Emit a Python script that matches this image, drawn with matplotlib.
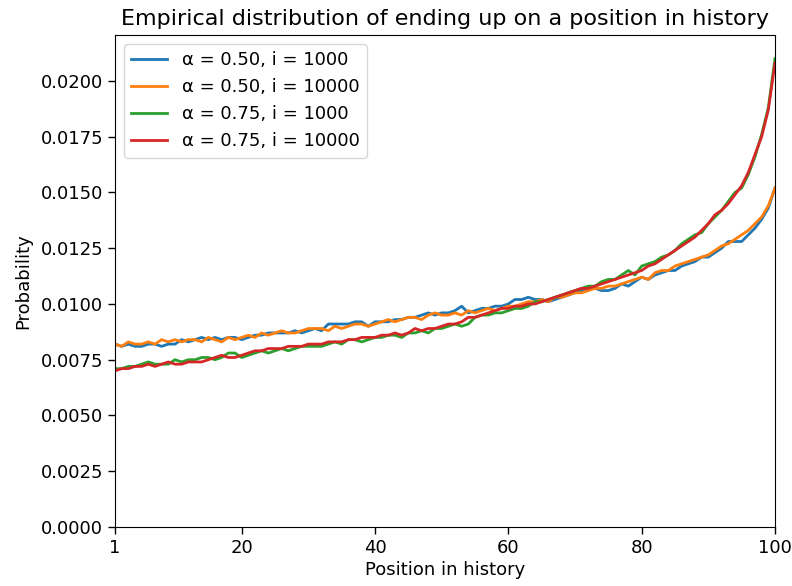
import numpy as np
import matplotlib
matplotlib.use("Agg")
import matplotlib.pyplot as plt

positions = list(range(1, 101))

# alpha = 0.50, i = 1000
p50_1k = [0.0082, 0.0081, 0.0082, 0.0081, 0.0081, 0.0082, 0.0082, 0.0081, 0.0082, 0.0082,
          0.0084, 0.0083, 0.0084, 0.0085, 0.0084, 0.0085, 0.0084, 0.0085, 0.0085, 0.0084,
          0.0085, 0.0086, 0.0086, 0.0087, 0.0087, 0.0087, 0.0087, 0.0088, 0.0087, 0.0088,
          0.0089, 0.0088, 0.0091, 0.0091, 0.0091, 0.0091, 0.0092, 0.0092, 0.0090, 0.0092,
          0.0092, 0.0092, 0.0093, 0.0093, 0.0094, 0.0094, 0.0095, 0.0096, 0.0095, 0.0096,
          0.0096, 0.0097, 0.0099, 0.0096, 0.0097, 0.0098, 0.0098, 0.0099, 0.0099, 0.0100,
          0.0102, 0.0102, 0.0103, 0.0102, 0.0102, 0.0101, 0.0102, 0.0103, 0.0104, 0.0105,
          0.0106, 0.0107, 0.0107, 0.0106, 0.0106, 0.0107, 0.0109, 0.0108, 0.0110, 0.0112,
          0.0111, 0.0113, 0.0114, 0.0115, 0.0115, 0.0117, 0.0118, 0.0119, 0.0121, 0.0121,
          0.0123, 0.0125, 0.0128, 0.0128, 0.0128, 0.0131, 0.0134, 0.0138, 0.0143, 0.0152]

# alpha = 0.50, i = 10000
p50_10k = [0.0082, 0.0081, 0.0083, 0.0082, 0.0082, 0.0083, 0.0082, 0.0084, 0.0083, 0.0084,
           0.0083, 0.0084, 0.0084, 0.0083, 0.0085, 0.0084, 0.0083, 0.0085, 0.0084, 0.0085,
           0.0086, 0.0085, 0.0087, 0.0086, 0.0087, 0.0088, 0.0087, 0.0087, 0.0088, 0.0089,
           0.0089, 0.0089, 0.0088, 0.0090, 0.0089, 0.0090, 0.0091, 0.0091, 0.0090, 0.0091,
           0.0092, 0.0093, 0.0092, 0.0093, 0.0094, 0.0094, 0.0093, 0.0095, 0.0096, 0.0095,
           0.0095, 0.0096, 0.0095, 0.0097, 0.0096, 0.0097, 0.0098, 0.0097, 0.0098, 0.0099,
           0.0099, 0.0100, 0.0101, 0.0101, 0.0102, 0.0101, 0.0103, 0.0103, 0.0104, 0.0105,
           0.0105, 0.0106, 0.0107, 0.0107, 0.0108, 0.0108, 0.0109, 0.0110, 0.0111, 0.0112,
           0.0111, 0.0114, 0.0115, 0.0115, 0.0117, 0.0118, 0.0119, 0.0120, 0.0121, 0.0122,
           0.0124, 0.0126, 0.0127, 0.0129, 0.0131, 0.0133, 0.0136, 0.0139, 0.0144, 0.0152]

# alpha = 0.75, i = 1000
p75_1k = [0.0071, 0.0071, 0.0072, 0.0072, 0.0073, 0.0074, 0.0073, 0.0073, 0.0073, 0.0075,
          0.0074, 0.0075, 0.0075, 0.0076, 0.0076, 0.0075, 0.0076, 0.0078, 0.0078, 0.0076,
          0.0077, 0.0078, 0.0079, 0.0078, 0.0079, 0.0080, 0.0079, 0.0080, 0.0081, 0.0081,
          0.0081, 0.0081, 0.0082, 0.0083, 0.0082, 0.0084, 0.0084, 0.0083, 0.0084, 0.0085,
          0.0085, 0.0086, 0.0086, 0.0085, 0.0087, 0.0087, 0.0088, 0.0087, 0.0089, 0.0089,
          0.0090, 0.0091, 0.0090, 0.0091, 0.0094, 0.0095, 0.0095, 0.0096, 0.0096, 0.0097,
          0.0098, 0.0098, 0.0099, 0.0101, 0.0101, 0.0102, 0.0103, 0.0104, 0.0105, 0.0106,
          0.0107, 0.0108, 0.0108, 0.0110, 0.0111, 0.0111, 0.0113, 0.0115, 0.0113, 0.0117,
          0.0118, 0.0119, 0.0121, 0.0122, 0.0124, 0.0127, 0.0129, 0.0131, 0.0132, 0.0136,
          0.0139, 0.0142, 0.0146, 0.0150, 0.0152, 0.0158, 0.0166, 0.0176, 0.0188, 0.0210]

# alpha = 0.75, i = 10000
p75_10k = [0.0070, 0.0071, 0.0071, 0.0072, 0.0072, 0.0073, 0.0072, 0.0073, 0.0074, 0.0073,
           0.0073, 0.0074, 0.0074, 0.0074, 0.0075, 0.0076, 0.0077, 0.0076, 0.0076, 0.0077,
           0.0078, 0.0079, 0.0079, 0.0080, 0.0080, 0.0080, 0.0081, 0.0081, 0.0081, 0.0082,
           0.0082, 0.0082, 0.0083, 0.0083, 0.0083, 0.0084, 0.0084, 0.0085, 0.0085, 0.0085,
           0.0086, 0.0086, 0.0087, 0.0086, 0.0087, 0.0089, 0.0088, 0.0089, 0.0089, 0.0090,
           0.0091, 0.0091, 0.0092, 0.0094, 0.0094, 0.0095, 0.0096, 0.0097, 0.0098, 0.0098,
           0.0099, 0.0099, 0.0100, 0.0100, 0.0101, 0.0102, 0.0103, 0.0104, 0.0105, 0.0106,
           0.0107, 0.0107, 0.0108, 0.0109, 0.0110, 0.0111, 0.0112, 0.0113, 0.0114, 0.0115,
           0.0117, 0.0118, 0.0120, 0.0122, 0.0124, 0.0126, 0.0128, 0.0130, 0.0133, 0.0136,
           0.0140, 0.0142, 0.0145, 0.0149, 0.0153, 0.0159, 0.0167, 0.0175, 0.0187, 0.0208]

labels = ["α = 0.50, i = 1000", "α = 0.50, i = 10000",
          "α = 0.75, i = 1000", "α = 0.75, i = 10000"]
xticks = [1, 20, 40, 60, 80, 100]

fig = plt.figure(figsize=(7.92, 5.86), dpi=100)
ax = fig.add_axes([0.1452, 0.1007, 0.8333, 0.8396])
for series, lab in zip([p50_1k, p50_10k, p75_1k, p75_10k], labels):
    ax.plot(positions, series, label=lab, linewidth=2)

ax.set_xlim(1, 100)
ax.set_ylim(0, 0.02206)
ax.set_xticks(xticks)
ax.set_yticks(np.arange(0, 0.0201, 0.0025))
ax.yaxis.set_major_formatter(matplotlib.ticker.FormatStrFormatter('%.4f'))
ax.tick_params(labelsize=13, length=5, width=1)
ax.set_xlabel('Position in history', fontsize=13, labelpad=3)
ax.set_ylabel('Probability', fontsize=13, labelpad=6)
ax.set_title('Empirical distribution of ending up on a position in history', fontsize=16, pad=7)
ax.legend(loc='upper left', fontsize=13)

fig.savefig('out.png', dpi=100)
